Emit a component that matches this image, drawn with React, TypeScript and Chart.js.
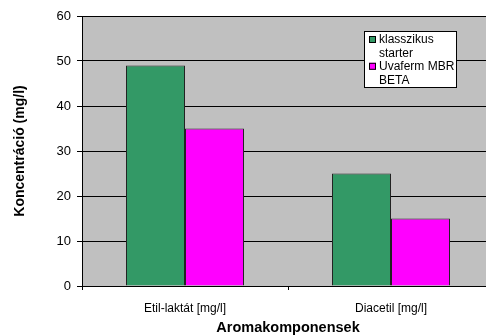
import React, { useEffect, useRef } from "react";
import { Chart, registerables } from "chart.js";

Chart.register(...registerables);

const categories = ["Etil-laktát [mg/l]", "Diacetil [mg/l]"];
const seriesNames = ["klasszikus starter", "Uvaferm MBR BETA"];
const legendLines = [["klasszikus", "starter"], ["Uvaferm MBR", "BETA"]];
const klasszikus = [49, 25];
const uvaferm = [35, 15];
const colors = ["#339966", "#FF00FF"];
const yTitle = "Koncentráció (mg/l)";
const xTitle = "Aromakomponensek";

const FONT = "'Liberation Sans', Arial, sans-serif";

const legendPlugin = {
  id: "boxLegend",
  afterDraw(chart: any) {
    const ctx = chart.ctx;
    const x0 = 364, y0 = 31, w = 93, h = 57;
    ctx.save();
    ctx.fillStyle = "#ffffff";
    ctx.fillRect(x0, y0, w, h);
    ctx.strokeStyle = "#000000";
    ctx.lineWidth = 1;
    ctx.strokeRect(x0 + 0.5, y0 + 0.5, w - 1, h - 1);
    ctx.font = `12px ${FONT}`;
    ctx.textBaseline = "middle";
    ctx.textAlign = "left";
    let line = 0;
    const lh = 13.4;
    legendLines.forEach((lines, i) => {
      const yc = y0 + 9 + line * lh;
      ctx.fillStyle = colors[i];
      ctx.fillRect(x0 + 5, yc - 4, 7, 7);
      ctx.strokeStyle = "#000";
      ctx.strokeRect(x0 + 5.5, yc - 3.5, 6, 6);
      ctx.fillStyle = "#000";
      lines.forEach((t) => {
        ctx.fillText(t, x0 + 15, y0 + 9 + line * lh);
        line++;
      });
    });
    ctx.restore();
  },
};

const bgPlugin = {
  id: "plotBg",
  beforeDraw(chart: any) {
    const { ctx, chartArea } = chart;
    ctx.save();
    ctx.fillStyle = "#C0C0C0";
    ctx.fillRect(chartArea.left, chartArea.top, chartArea.right - chartArea.left, chartArea.bottom - chartArea.top);
    ctx.restore();
  },
};

export default function App() {
  const ref = useRef<HTMLCanvasElement>(null);
  useEffect(() => {
    if (!ref.current) return;
    const chart = new Chart(ref.current, {
      type: "bar",
      data: {
        labels: categories,
        datasets: [
          { label: seriesNames[0], data: klasszikus, backgroundColor: colors[0], borderColor: "#222", borderWidth: 1 },
          { label: seriesNames[1], data: uvaferm, backgroundColor: colors[1], borderColor: "#222", borderWidth: 1 },
        ],
      },
      options: {
        responsive: false,
        animation: false,
        devicePixelRatio: 1,
        layout: { padding: { top: 16, right: 6, left: 0, bottom: 0 } },
        plugins: { legend: { display: false }, tooltip: { enabled: false } },
        datasets: { bar: { categoryPercentage: 0.573, barPercentage: 1 } },
        scales: {
          x: {
            grid: { drawOnChartArea: false, offset: true, color: "#000", tickLength: 4 },
            border: { color: "#000" },
            ticks: { color: "#000", font: { family: FONT, size: 12 }, padding: 11 },
            title: { display: true, text: xTitle, color: "#000", font: { family: FONT, size: 14.5, weight: "bold" }, padding: { top: 0, bottom: -1 } },
            afterFit: (s: any) => { s.height = 50; },
          },
          y: {
            min: 0,
            max: 60,
            ticks: { stepSize: 10, color: "#000", font: { family: FONT, size: 13 }, padding: 6 },
            grid: { color: "#000", tickLength: 5 },
            border: { color: "#000" },
            title: { display: true, text: yTitle, color: "#000", font: { family: FONT, size: 14, weight: "bold" }, padding: { top: 12, bottom: 0 } },
            afterFit: (s: any) => { s.width = 82; },
          },
        },
      },
      plugins: [bgPlugin, legendPlugin],
    });
    return () => chart.destroy();
  }, []);
  return (
    <div style={{ position: "fixed", left: 0, top: 0, width: 486, height: 336, overflow: "hidden", background: "#fff" }}>
      <canvas ref={ref} width={500} height={336} style={{ display: "block" }} />
    </div>
  );
}
